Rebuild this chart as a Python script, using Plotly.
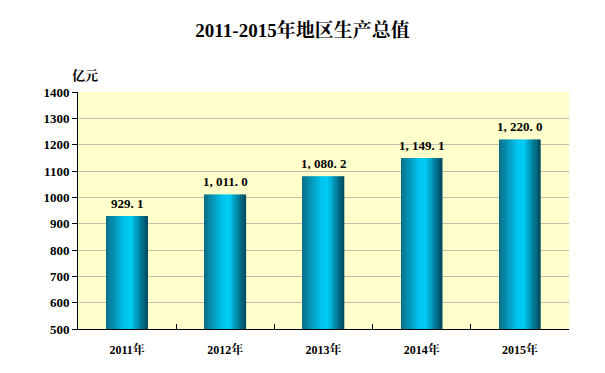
import plotly.graph_objects as go

categories = ["2011年", "2012年", "2013年", "2014年", "2015年"]
values = [929.1, 1011.0, 1080.2, 1149.1, 1220.0]
labels = ["929. 1", "1, 011. 0", "1, 080. 2", "1, 149. 1", "1, 220. 0"]
y_ticks = [500, 600, 700, 800, 900, 1000, 1100, 1200, 1300, 1400]

FONT = "Liberation Serif, Noto Serif CJK SC, Noto Sans CJK SC, serif"

stops = [(0.0, (10, 110, 135)), (0.45, (0, 195, 238)), (0.6, (0, 205, 245)), (1.0, (0, 72, 92))]

def grad(t):
    for (t0, c0), (t1, c1) in zip(stops[:-1], stops[1:]):
        if t0 <= t <= t1:
            f = (t - t0) / (t1 - t0) if t1 > t0 else 0
            return "rgb(%d,%d,%d)" % tuple(round(a + (b - a) * f) for a, b in zip(c0, c1))
    return "rgb(%d,%d,%d)" % stops[-1][1]

fig = go.Figure()
W = 0.42
N = 24
for i in range(N):
    t = (i + 0.5) / N
    fig.add_trace(go.Bar(
        x=categories, y=values, width=W / N + 0.002, offset=-W / 2 + i * W / N,
        marker=dict(color=grad(t), line=dict(width=0)),
        showlegend=False, hoverinfo="skip",
    ))

annotations = [dict(x=c, y=v, text="<b>%s</b>" % lab, showarrow=False,
                    yanchor="bottom", yshift=3,
                    font=dict(family=FONT, size=13, color="black"))
               for c, v, lab in zip(categories, values, labels)]
annotations.append(dict(text="<b>亿元</b>", xref="paper", yref="paper",
                        x=(85 - 78) / 491, y=1 + (92 - 75) / 237, xanchor="center",
                        yanchor="middle", showarrow=False,
                        font=dict(family=FONT, size=13, color="black")))

fig.update_layout(
    width=605, height=373,
    margin=dict(l=78, r=36, t=92, b=44),
    paper_bgcolor="white", plot_bgcolor="#FFFFCC",
    barmode="overlay",
    title=dict(text="<b>2011-2015年地区生产总值</b>", x=0.5, xanchor="center",
               y=1 - 30 / 373, yanchor="middle",
               font=dict(family=FONT, size=19, color="black")),
    font=dict(family=FONT, size=12, color="black"),
    annotations=annotations,
)
fig.update_xaxes(
    type="category", showline=True, linecolor="black", linewidth=1,
    ticks="inside", tickson="boundaries", ticklen=5, tickcolor="black",
    showgrid=False, tickfont=dict(family=FONT, size=12, color="black"),
    tickprefix="<b>", ticksuffix="</b>", ticklabelstandoff=10,
)
fig.update_yaxes(
    range=[500, 1400], tickvals=y_ticks, ticktext=["<b>%d</b>" % v for v in y_ticks],
    showline=True, linecolor="black", linewidth=1, ticks="outside", ticklen=5,
    tickcolor="black", showgrid=True, gridcolor="#BFBFB0", gridwidth=1,
    tickfont=dict(family=FONT, size=13, color="black"), zeroline=False,
)

fig.write_html("out.html")
